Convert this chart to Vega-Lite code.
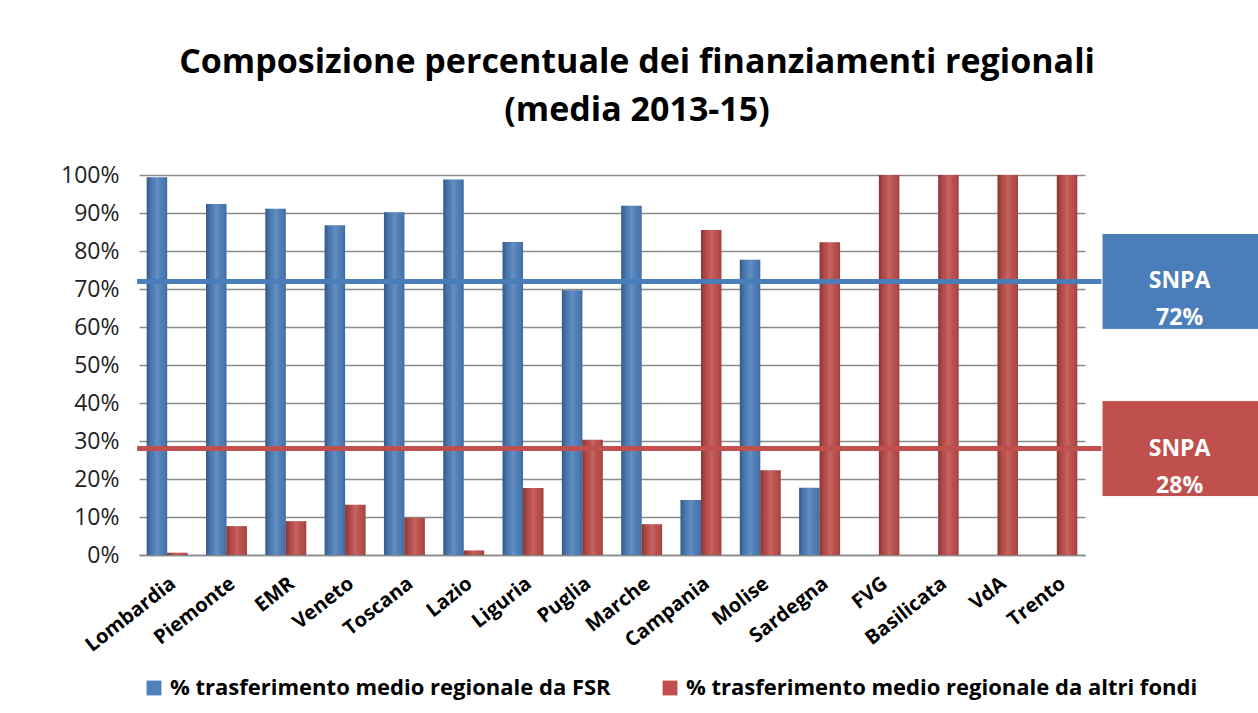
{
  "$schema": "https://vega.github.io/schema/vega-lite/v6.json",
  "width": 946,
  "height": 380,
  "autosize": {"type": "none"},
  "padding": {"left": 139, "top": 175, "right": 173, "bottom": 158},
  "background": "white",
  "title": {
    "text": ["Composizione  percentuale  dei finanziamenti  regionali", "(media 2013-15)"],
    "font": "Open Sans",
    "fontSize": 34,
    "fontWeight": "bold",
    "color": "#000000",
    "lineHeight": 48,
    "anchor": "middle",
    "frame": "group",
    "dx": 25,
    "offset": 36
  },
  "config": {
    "view": {"stroke": null},
    "font": "Open Sans"
  },
  "datasets": {
    "bars": [
      {"regione": "Lombardia", "serie": "% trasferimento medio regionale da FSR", "valore": 99.4},
      {"regione": "Lombardia", "serie": "% trasferimento medio regionale da altri fondi", "valore": 0.6},
      {"regione": "Piemonte", "serie": "% trasferimento medio regionale da FSR", "valore": 92.4},
      {"regione": "Piemonte", "serie": "% trasferimento medio regionale da altri fondi", "valore": 7.6},
      {"regione": "EMR", "serie": "% trasferimento medio regionale da FSR", "valore": 91.1},
      {"regione": "EMR", "serie": "% trasferimento medio regionale da altri fondi", "valore": 8.9},
      {"regione": "Veneto", "serie": "% trasferimento medio regionale da FSR", "valore": 86.8},
      {"regione": "Veneto", "serie": "% trasferimento medio regionale da altri fondi", "valore": 13.2},
      {"regione": "Toscana", "serie": "% trasferimento medio regionale da FSR", "valore": 90.2},
      {"regione": "Toscana", "serie": "% trasferimento medio regionale da altri fondi", "valore": 9.8},
      {"regione": "Lazio", "serie": "% trasferimento medio regionale da FSR", "valore": 98.8},
      {"regione": "Lazio", "serie": "% trasferimento medio regionale da altri fondi", "valore": 1.2},
      {"regione": "Liguria", "serie": "% trasferimento medio regionale da FSR", "valore": 82.4},
      {"regione": "Liguria", "serie": "% trasferimento medio regionale da altri fondi", "valore": 17.6},
      {"regione": "Puglia", "serie": "% trasferimento medio regionale da FSR", "valore": 69.7},
      {"regione": "Puglia", "serie": "% trasferimento medio regionale da altri fondi", "valore": 30.3},
      {"regione": "Marche", "serie": "% trasferimento medio regionale da FSR", "valore": 91.9},
      {"regione": "Marche", "serie": "% trasferimento medio regionale da altri fondi", "valore": 8.1},
      {"regione": "Campania", "serie": "% trasferimento medio regionale da FSR", "valore": 14.5},
      {"regione": "Campania", "serie": "% trasferimento medio regionale da altri fondi", "valore": 85.5},
      {"regione": "Molise", "serie": "% trasferimento medio regionale da FSR", "valore": 77.7},
      {"regione": "Molise", "serie": "% trasferimento medio regionale da altri fondi", "valore": 22.3},
      {"regione": "Sardegna", "serie": "% trasferimento medio regionale da FSR", "valore": 17.7},
      {"regione": "Sardegna", "serie": "% trasferimento medio regionale da altri fondi", "valore": 82.3},
      {"regione": "FVG", "serie": "% trasferimento medio regionale da FSR", "valore": 0},
      {"regione": "FVG", "serie": "% trasferimento medio regionale da altri fondi", "valore": 100},
      {"regione": "Basilicata", "serie": "% trasferimento medio regionale da FSR", "valore": 0},
      {"regione": "Basilicata", "serie": "% trasferimento medio regionale da altri fondi", "valore": 100},
      {"regione": "VdA", "serie": "% trasferimento medio regionale da FSR", "valore": 0},
      {"regione": "VdA", "serie": "% trasferimento medio regionale da altri fondi", "valore": 100},
      {"regione": "Trento", "serie": "% trasferimento medio regionale da FSR", "valore": 0},
      {"regione": "Trento", "serie": "% trasferimento medio regionale da altri fondi", "valore": 100}
    ],
    "snpa": [
      {"serie": "FSR", "valore": 72, "etichetta": "SNPA\n72%"},
      {"serie": "altri fondi", "valore": 28, "etichetta": "SNPA\n28%"}
    ]
  },
  "encoding": {
    "y": {
      "field": "valore",
      "type": "quantitative",
      "scale": {"domain": [0, 100], "nice": false},
      "axis": {
        "title": null,
        "values": [0, 10, 20, 30, 40, 50, 60, 70, 80, 90, 100],
        "labelExpr": "datum.value + '%'",
        "labelOverlap": false,
        "labelFont": "Open Sans",
        "labelFontSize": 23,
        "labelColor": "#222222",
        "labelPadding": 20,
        "ticks": false,
        "domain": false,
        "grid": true,
        "gridColor": "#8a8a8a",
        "gridWidth": 1.5
      }
    }
  },
  "layer": [
    {
      "data": {"name": "bars"},
      "encoding": {
        "x": {
          "field": "regione",
          "type": "nominal",
          "sort": null,
          "scale": {"paddingInner": 0.31, "paddingOuter": 0.13},
          "axis": {
            "title": null,
            "labelAngle": -38,
            "labelFont": "Open Sans",
            "labelFontSize": 20,
            "labelFontWeight": "bold",
            "labelColor": "#000000",
            "labelPadding": 18,
            "labelOverlap": false,
            "ticks": false,
            "domain": true,
            "domainColor": "#8a8a8a",
            "domainWidth": 1.5,
            "grid": false
          }
        },
        "xOffset": {
          "field": "serie",
          "type": "nominal",
          "scale": {"domain": ["% trasferimento medio regionale da FSR", "% trasferimento medio regionale da altri fondi"], "paddingInner": 0}
        }
      },
      "layer": [
        {
          "mark": {"type": "bar"},
          "encoding": {
            "color": {
              "field": "serie",
              "type": "nominal",
              "scale": {
                "domain": ["% trasferimento medio regionale da FSR", "% trasferimento medio regionale da altri fondi"],
                "range": ["#4F81BD", "#C0504D"]
              },
              "legend": {
                "title": null,
                "orient": "none",
                "legendX": 4,
                "legendY": 502,
                "direction": "horizontal",
                "symbolType": "square",
                "symbolSize": 220,
                "symbolStrokeWidth": 0,
                "labelFont": "Open Sans",
                "labelFontSize": 22,
                "labelFontWeight": "bold",
                "labelColor": "#000000",
                "labelLimit": 700,
                "labelOffset": 5,
                "columnPadding": 48
              }
            }
          }
        },
        {
          "mark": {
            "type": "bar",
            "fill": {
              "gradient": "linear",
              "x1": 0, "y1": 0, "x2": 1, "y2": 0,
              "stops": [
                {"offset": 0, "color": "rgba(0,0,0,0.30)"},
                {"offset": 0.25, "color": "rgba(0,0,0,0.05)"},
                {"offset": 0.5, "color": "rgba(255,255,255,0.12)"},
                {"offset": 0.85, "color": "rgba(0,0,0,0.05)"},
                {"offset": 1, "color": "rgba(0,0,0,0.18)"}
              ]
            }
          }
        }
      ]
    },
    {
      "data": {"name": "snpa"},
      "layer": [
        {
          "mark": {"type": "rule", "strokeWidth": 5, "clip": false},
          "encoding": {
            "x": {"datum": -0.002, "type": "quantitative", "scale": {"domain": [0, 1], "nice": false, "zero": false}, "axis": null},
            "x2": {"datum": 1.02},
            "color": {"field": "serie", "type": "nominal", "scale": {"domain": ["FSR", "altri fondi"], "range": ["#4A7EBB", "#C0504D"]}, "legend": null}
          }
        },
        {
          "mark": {"type": "rect", "height": 96, "clip": false, "stroke": "#ffffff", "strokeWidth": 1},
          "encoding": {
            "x": {"datum": 1.018, "type": "quantitative", "axis": null},
            "x2": {"datum": 1.19},
            "color": {"field": "serie", "type": "nominal", "legend": null}
          }
        },
        {
          "mark": {"type": "text", "font": "Open Sans", "fontSize": 23, "fontWeight": "bold", "color": "#ffffff", "lineBreak": "\n", "lineHeight": 37, "align": "center", "baseline": "middle", "clip": false},
          "encoding": {
            "x": {"datum": 1.1, "type": "quantitative", "axis": null},
            "text": {"field": "etichetta", "type": "nominal"}
          }
        }
      ]
    }
  ],
  "resolve": {"scale": {"x": "independent", "color": "independent"}}
}
